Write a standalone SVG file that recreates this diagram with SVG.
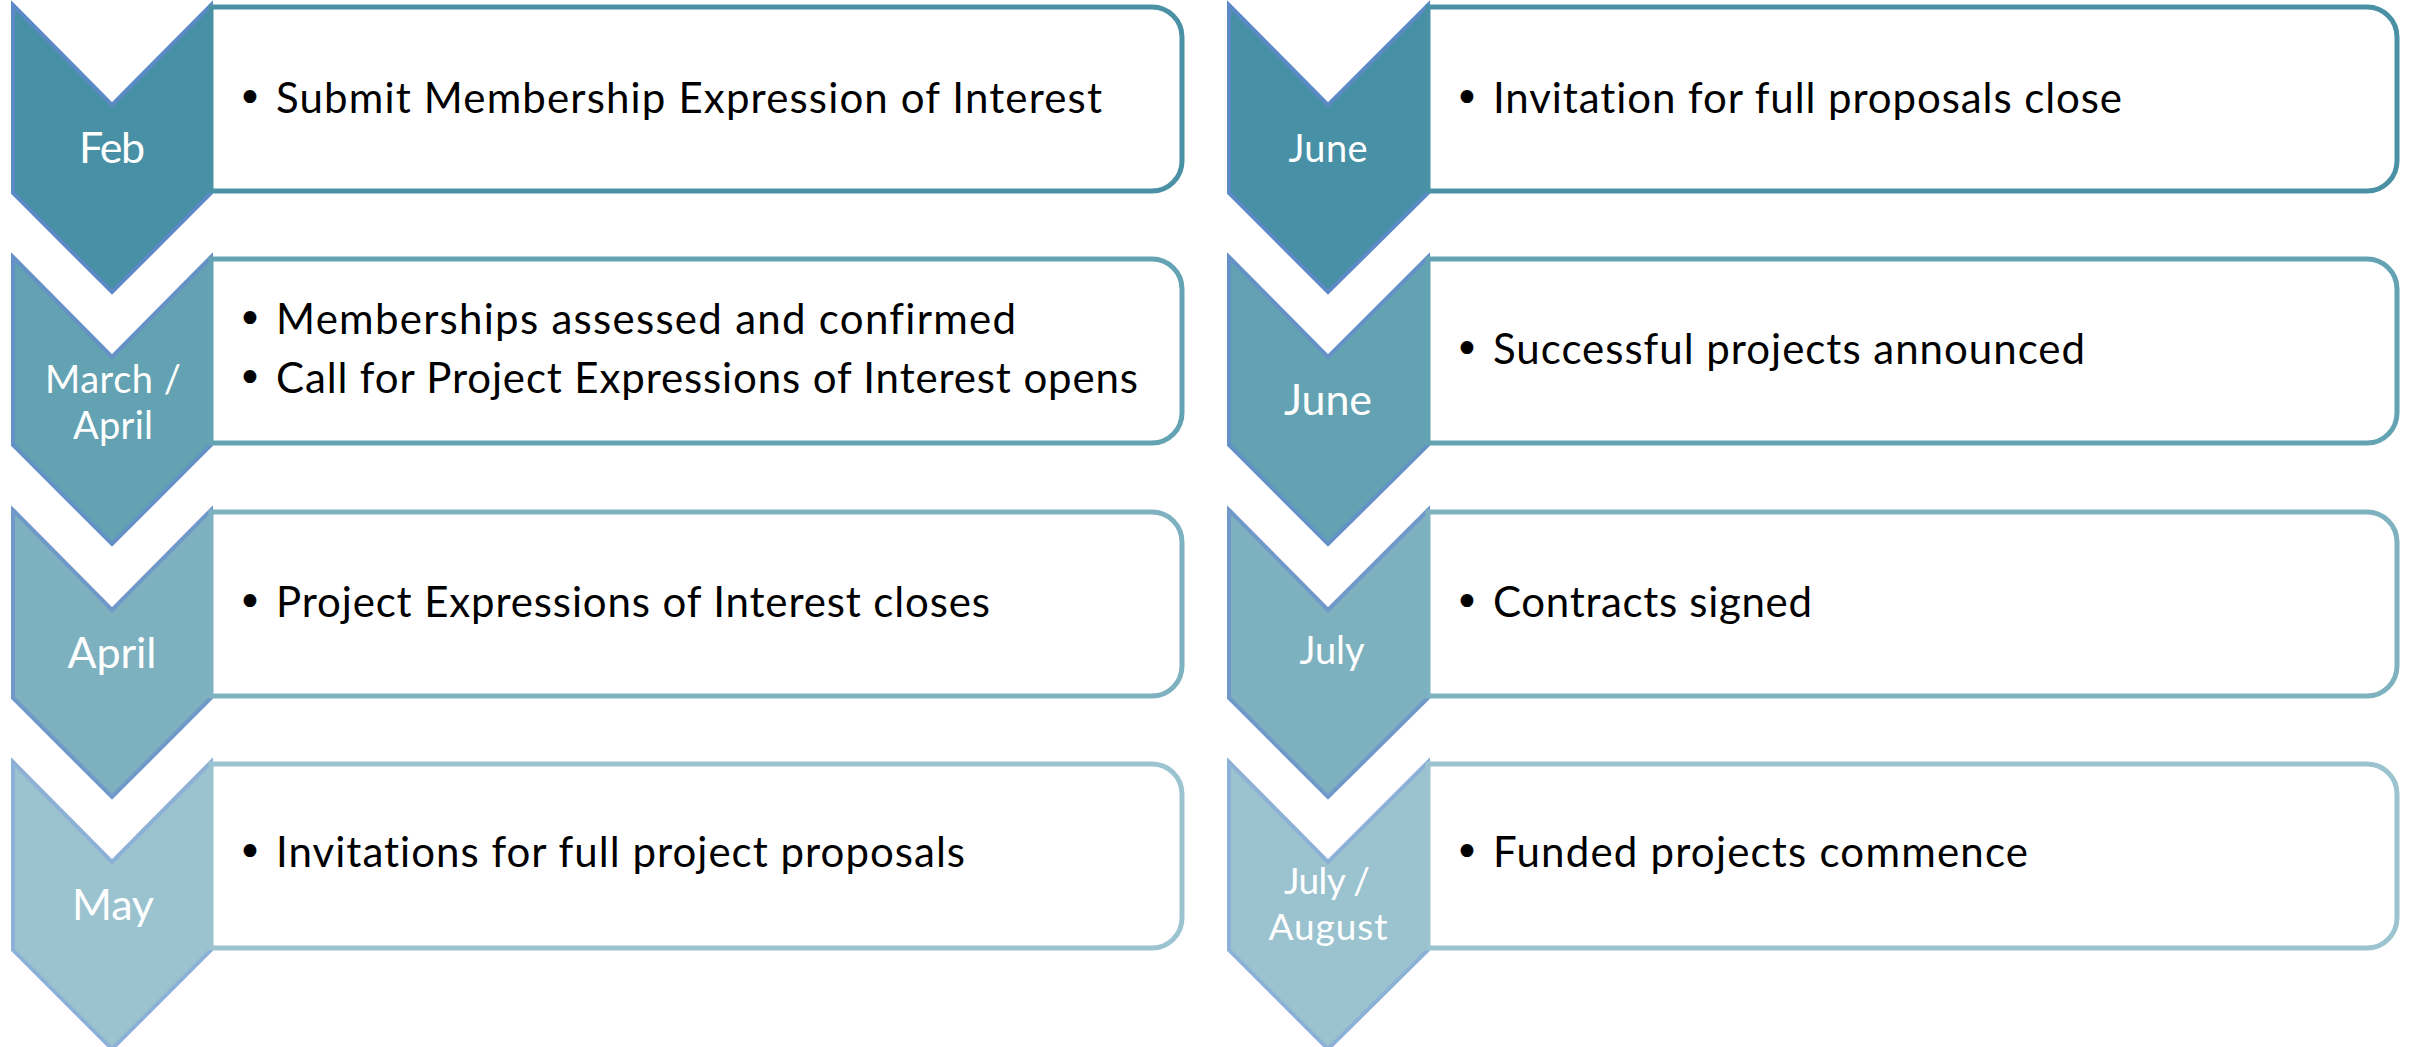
<svg xmlns="http://www.w3.org/2000/svg" width="2417" height="1047" viewBox="0 0 2417 1047">
<style>
.bg{fill:#ffffff}
.box{fill:#ffffff;stroke-width:5}
.chev{stroke-width:4;stroke-linejoin:miter}
.lbl{font-family:Lato,"Open Sans","Liberation Sans",sans-serif;fill:#ffffff;text-anchor:middle;font-variant-ligatures:none}
.body{font-family:Lato,"Open Sans","Liberation Sans",sans-serif;font-size:42px;fill:#000000;font-variant-ligatures:none}
.bul{font-family:"DejaVu Sans",sans-serif;font-size:44px;fill:#000000;text-anchor:middle}
.c1{fill:#4790A5;stroke:#5B8AC6}
.c2{fill:#62A2B2;stroke:#6591C6}
.c3{fill:#7EB1BF;stroke:#7099C9}
.c4{fill:#9AC3CF;stroke:#8DB0D6}
.b1{stroke:#4A91A6}
.b2{stroke:#64A3B4}
.b3{stroke:#7FB2C1}
.b4{stroke:#9BC4D0}
</style>
<rect class="bg" x="0" y="0" width="2417" height="1047"/>
<g id="connectors"></g>

<!-- Left column -->
<g id="feb">
<path class="chev c1" d="M13,5 L112,105 L211,5 L211,193 L112,292 L13,193 Z"/>
<path class="box b1" d="M211,7 H1152 A30,30 0 0 1 1182,37 V161 A30,30 0 0 1 1152,191 H211 Z"/>
<text class="lbl" x="112" y="163" font-size="43" textLength="66">Feb</text>
<text class="bul" x="250" y="113">•</text>
<text class="body" x="276" y="113" textLength="826">Submit Membership Expression of Interest</text>
</g>

<g id="march-april">
<path class="chev c2" d="M13,257 L112,357 L211,257 L211,445 L112,544 L13,445 Z"/>
<path class="box b2" d="M211,259 H1152 A30,30 0 0 1 1182,289 V413 A30,30 0 0 1 1152,443 H211 Z"/>
<text class="lbl" x="113" y="393" font-size="38" textLength="136">March /</text>
<text class="lbl" x="113" y="439" font-size="38" textLength="80">April</text>
<text class="bul" x="250" y="334">•</text>
<text class="body" x="276" y="334" textLength="740">Memberships assessed and confirmed</text>
<text class="bul" x="250" y="393">•</text>
<text class="body" x="276" y="393" textLength="862">Call for Project Expressions of Interest opens</text>
</g>

<g id="april">
<path class="chev c3" d="M13,510 L112,610 L211,510 L211,698 L112,797 L13,698 Z"/>
<path class="box b3" d="M211,512 H1152 A30,30 0 0 1 1182,542 V666 A30,30 0 0 1 1152,696 H211 Z"/>
<text class="lbl" x="112" y="668" font-size="43" textLength="89">April</text>
<text class="bul" x="250" y="617">•</text>
<text class="body" x="276" y="617" textLength="714">Project Expressions of Interest closes</text>
</g>

<g id="may">
<path class="chev c4" d="M13,762 L112,862 L211,762 L211,950 L112,1049 L13,950 Z"/>
<path class="box b4" d="M211,764 H1152 A30,30 0 0 1 1182,794 V918 A30,30 0 0 1 1152,948 H211 Z"/>
<text class="lbl" x="113" y="920" font-size="43" textLength="82">May</text>
<text class="bul" x="250" y="867">•</text>
<text class="body" x="276" y="867" textLength="689">Invitations for full project proposals</text>
</g>

<!-- Right column -->
<g id="june-1">
<path class="chev c1" d="M1229,5 L1328,105 L1428,5 L1428,193 L1328,292 L1229,193 Z"/>
<path class="box b1" d="M1428,7 H2367 A30,30 0 0 1 2397,37 V161 A30,30 0 0 1 2367,191 H1428 Z"/>
<text class="lbl" x="1328" y="162" font-size="38" textLength="79">June</text>
<text class="bul" x="1467" y="113">•</text>
<text class="body" x="1493" y="113" textLength="629">Invitation for full proposals close</text>
</g>

<g id="june-2">
<path class="chev c2" d="M1229,257 L1328,357 L1428,257 L1428,445 L1328,544 L1229,445 Z"/>
<path class="box b2" d="M1428,259 H2367 A30,30 0 0 1 2397,289 V413 A30,30 0 0 1 2367,443 H1428 Z"/>
<text class="lbl" x="1328" y="415" font-size="43" textLength="88">June</text>
<text class="bul" x="1467" y="364">•</text>
<text class="body" x="1493" y="364" textLength="592">Successful projects announced</text>
</g>

<g id="july">
<path class="chev c3" d="M1229,510 L1328,610 L1428,510 L1428,698 L1328,797 L1229,698 Z"/>
<path class="box b3" d="M1428,512 H2367 A30,30 0 0 1 2397,542 V666 A30,30 0 0 1 2367,696 H1428 Z"/>
<text class="lbl" x="1332" y="664" font-size="38" textLength="65">July</text>
<text class="bul" x="1467" y="617">•</text>
<text class="body" x="1493" y="617" textLength="319">Contracts signed</text>
</g>

<g id="july-august">
<path class="chev c4" d="M1229,762 L1328,862 L1428,762 L1428,950 L1328,1049 L1229,950 Z"/>
<path class="box b4" d="M1428,764 H2367 A30,30 0 0 1 2397,794 V918 A30,30 0 0 1 2367,948 H1428 Z"/>
<text class="lbl" x="1327" y="894" font-size="37" textLength="86">July /</text>
<text class="lbl" x="1328" y="940" font-size="37" textLength="119">August</text>
<text class="bul" x="1467" y="867">•</text>
<text class="body" x="1493" y="867" textLength="535">Funded projects commence</text>
</g>
</svg>
